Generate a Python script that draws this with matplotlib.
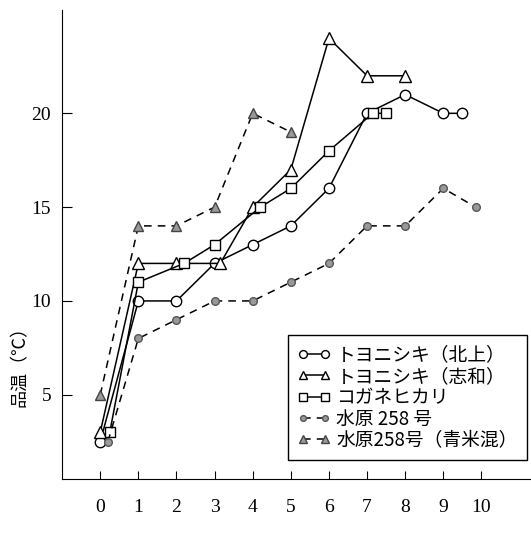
import matplotlib.pyplot as plt

plt.rcParams['font.family'] = ['Noto Sans CJK JP', 'DejaVu Sans']

# データ
x_kitakami = [0, 1, 2, 3, 4, 5, 6, 7, 8, 9, 9.5]
y_kitakami = [2.5, 10, 10, 12, 13, 14, 16, 20, 21, 20, 20]

x_shiwa = [0, 1, 2, 3.15, 4, 5, 6, 7, 8]
y_shiwa = [3, 12, 12, 12, 15, 17, 24, 22, 22]

x_koganehikari = [0.25, 1, 2.2, 3, 4.2, 5, 6, 7.15, 7.5]
y_koganehikari = [3, 11, 12, 13, 15, 16, 18, 20, 20]

x_mizuhara = [0.2, 1, 2, 3, 4, 5, 6, 7, 8, 9, 9.85]
y_mizuhara = [2.5, 8, 9, 10, 10, 11, 12, 14, 14, 16, 15]

x_aomai = [0, 1, 2, 3, 4, 5]
y_aomai = [5, 14, 14, 15, 20, 19]

labels = ['トヨニシキ（北上）', 'トヨニシキ（志和）', 'コガネヒカリ',
          '水原 258 号', '水原258号（青米混）']
x_ticks = list(range(0, 11))
y_ticks = [5, 10, 15, 20]

fig = plt.figure(figsize=(5.31, 5.33), dpi=100)
ax = fig.add_axes([0.117, 0.101, 0.883, 0.88])

ax.plot(x_kitakami, y_kitakami, '-', color='black', lw=1.1, marker='o',
        ms=7.5, mfc='white', mec='black', label=labels[0])
ax.plot(x_shiwa, y_shiwa, '-', color='black', lw=1.1, marker='^',
        ms=8.5, mfc='white', mec='black', label=labels[1])
ax.plot(x_koganehikari, y_koganehikari, '-', color='black', lw=1.1, marker='s',
        ms=7.5, mfc='white', mec='black', label=labels[2])
ax.plot(x_mizuhara, y_mizuhara, '--', color='black', lw=1.1, dashes=(5, 4),
        marker='o', ms=5.5, mfc='#999999', mec='#555555', label=labels[3])
ax.plot(x_aomai, y_aomai, '--', color='black', lw=1.1, dashes=(5, 4),
        marker='^', ms=7.5, mfc='#999999', mec='#444444', label=labels[4])

ax.set_xlim(-1.0, 11.3)
ax.set_ylim(0.5, 25.5)
ax.set_xticks(x_ticks)
ax.set_yticks(y_ticks)
ax.set_xticklabels([str(v) for v in x_ticks], family='Liberation Serif', fontsize=14)
ax.set_yticklabels([str(v) for v in y_ticks], family='Liberation Serif', fontsize=14)
ax.tick_params(axis='x', direction='in', length=6, pad=14)
ax.tick_params(axis='y', direction='in', length=7, pad=8)
ax.spines['top'].set_visible(False)
ax.spines['right'].set_visible(False)

fig.text(0.038, 0.32, '品温（℃）', rotation=90, ha='center', va='center', fontsize=13)

leg = ax.legend(loc='lower right', bbox_to_anchor=(0.992, 0.04), borderaxespad=0,
                fontsize=13.5, numpoints=2, markerscale=0.75, handlelength=1.8,
                handletextpad=0.3, labelspacing=0.02, borderpad=0.5, fancybox=False,
                edgecolor='black', framealpha=1)
leg.get_frame().set_linewidth(1.0)

plt.savefig('out.png', dpi=100)
plt.close(fig)
